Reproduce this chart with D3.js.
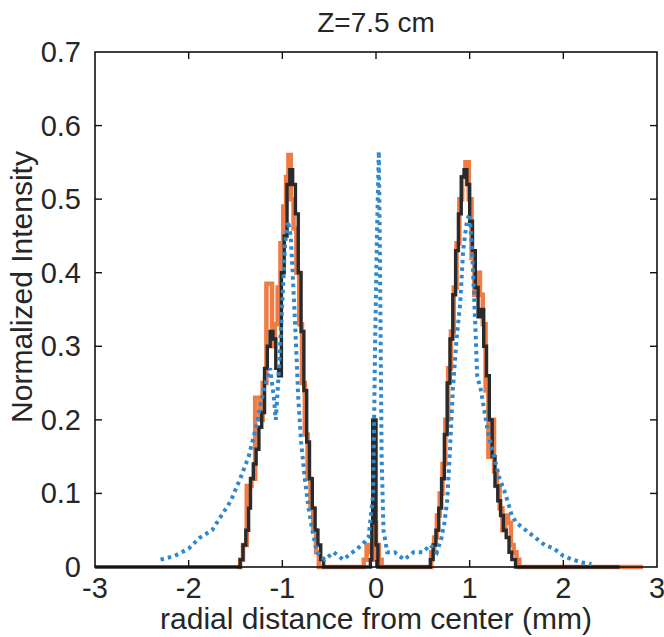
<!DOCTYPE html>
<html>
<head>
<meta charset="utf-8">
<script src="https://cdn.jsdelivr.net/npm/d3@7"></script>
<style>
  body { margin: 0; background: #fff; }
  svg { display: block; }
  text { font-family: "Liberation Sans", Arial, sans-serif; fill: #262626; }
</style>
</head>
<body>
<svg id="chart" width="664" height="637"></svg>
<script>
// ---- data ----
const titleText = "Z=7.5 cm";
const xLabel = "radial distance from center (mm)";
const yLabel = "Normalized Intensity";
const xTicks = [-3, -2, -1, 0, 1, 2, 3];
const yTicks = [0, 0.1, 0.2, 0.3, 0.4, 0.5, 0.6, 0.7];

// orange (stair)
const orangeX = [-1.48,-1.45,-1.42,-1.38,-1.33,-1.29,-1.24,-1.21,-1.17,-1.11,-1.08,-1.05,-1.02,-0.99,-0.96,-0.935,-0.91,-0.88,-0.85,-0.82,-0.79,-0.76,-0.73,-0.70,-0.67,-0.64,-0.61,
  -0.13,-0.10,-0.07,-0.04,-0.02,0.0,0.03,0.06,
  0.56,0.59,0.62,0.65,0.68,0.71,0.74,0.77,0.80,0.83,0.86,0.89,0.92,0.955,0.99,1.02,1.05,1.08,1.11,1.14,1.17,1.20,1.23,1.26,1.29,1.32,1.35,1.38,1.41,1.44,1.47,1.50,1.53,
  2.6,2.85];
const orangeY = [0.0,0.01,0.03,0.11,0.12,0.23,0.20,0.25,0.385,0.30,0.33,0.38,0.44,0.49,0.53,0.56,0.50,0.46,0.40,0.33,0.25,0.18,0.12,0.08,0.05,0.02,0.0,
  0.01,0.03,0.02,0.01,0.06,0.03,0.01,0.0,
  0.0,0.02,0.04,0.07,0.10,0.14,0.20,0.27,0.32,0.38,0.44,0.50,0.53,0.55,0.50,0.42,0.37,0.40,0.37,0.33,0.24,0.15,0.20,0.13,0.11,0.08,0.05,0.07,0.06,0.03,0.02,0.01,0.0,
  0.0,0.0];

// black (stair)
const blackX = [-3,-1.47,-1.45,-1.42,-1.39,-1.36,-1.34,-1.31,-1.28,-1.25,-1.22,-1.19,-1.16,-1.13,-1.10,-1.07,-1.04,-1.01,-0.98,-0.95,-0.92,-0.89,-0.86,-0.83,-0.80,-0.77,-0.74,-0.71,-0.68,-0.65,-0.62,-0.59,-0.56,
  -0.06,-0.045,-0.035,0.0,0.02,
  0.56,0.58,0.61,0.64,0.67,0.70,0.73,0.76,0.79,0.82,0.85,0.88,0.91,0.94,0.97,1.0,1.03,1.06,1.09,1.12,1.15,1.18,1.21,1.24,1.27,1.30,1.33,1.36,1.39,1.42,1.45,1.49,2.6];
const blackY = [0,0,0.01,0.03,0.05,0.08,0.12,0.14,0.16,0.19,0.21,0.27,0.30,0.32,0.31,0.27,0.26,0.40,0.45,0.52,0.54,0.52,0.48,0.40,0.32,0.24,0.17,0.12,0.08,0.05,0.03,0.01,0,
  0.01,0.06,0.20,0.03,0,
  0,0.01,0.03,0.05,0.08,0.12,0.18,0.25,0.31,0.37,0.43,0.48,0.53,0.54,0.52,0.47,0.43,0.38,0.34,0.35,0.30,0.26,0.20,0.15,0.11,0.09,0.07,0.05,0.04,0.02,0.01,0,0];

// blue (dotted)
const blueX = [-2.3,-2.15,-2.0,-1.88,-1.75,-1.65,-1.55,-1.45,-1.36,-1.28,-1.2,-1.13,-1.09,-1.07,-1.04,-1.0,-0.97,-0.94,-0.91,-0.89,-0.86,-0.83,-0.8,-0.76,-0.72,-0.68,-0.63,-0.55,-0.45,-0.35,-0.25,-0.15,-0.08,-0.03,-0.01,0.01,0.03,0.04,0.05,0.06,0.08,0.12,0.2,0.3,0.4,0.5,0.58,
  0.65,0.70,0.73,0.76,0.79,0.82,0.86,0.90,0.93,0.97,1.0,1.03,1.06,1.08,1.12,1.16,1.2,1.26,1.32,1.38,1.45,1.5,1.6,1.7,1.8,1.9,2.0,2.1,2.2,2.3];
const blueY = [0.01,0.015,0.025,0.04,0.05,0.07,0.09,0.12,0.15,0.19,0.24,0.27,0.23,0.2,0.26,0.36,0.44,0.47,0.45,0.40,0.32,0.23,0.17,0.12,0.08,0.05,0.02,0.01,0.02,0.01,0.02,0.03,0.04,0.1,0.3,0.45,0.565,0.45,0.3,0.15,0.05,0.02,0.02,0.01,0.02,0.02,0.03,
  0.02,0.04,0.06,0.09,0.16,0.24,0.31,0.36,0.43,0.47,0.48,0.42,0.33,0.26,0.24,0.21,0.18,0.15,0.12,0.10,0.07,0.06,0.05,0.04,0.03,0.025,0.015,0.01,0.006,0.004];

// ---- layout ----
const svg = d3.select("#chart");
const L = 95, R = 657, T = 52, B = 567;
const x = d3.scaleLinear().domain([-3, 3]).range([L, R]);
const y = d3.scaleLinear().domain([0, 0.7]).range([B, T]);

const zip = (xs, ys) => xs.map((v, i) => [v, ys[i]]);
const stair = d3.line().x(d => x(d[0])).y(d => y(d[1])).curve(d3.curveStepAfter);
const lin = d3.line().x(d => x(d[0])).y(d => y(d[1]));

svg.append("path").datum(zip(orangeX, orangeY))
  .attr("d", stair).attr("fill", "none")
  .attr("stroke", "#ef7b45").attr("stroke-width", 4.5);

svg.append("path").datum(zip(blackX, blackY))
  .attr("d", stair).attr("fill", "none")
  .attr("stroke", "#2a2a2a").attr("stroke-width", 3.4);

svg.append("path").datum(zip(blueX, blueY))
  .attr("d", lin).attr("fill", "none")
  .attr("stroke", "#2f88cc").attr("stroke-width", 4)
  .attr("stroke-dasharray", "3.5,4");

// ---- box & ticks ----
svg.append("rect").attr("x", L).attr("y", T).attr("width", R - L).attr("height", B - T)
  .attr("fill", "none").attr("stroke", "#111").attr("stroke-width", 1.6);

const tl = 7;
const g = svg.append("g").attr("stroke", "#111").attr("stroke-width", 1.4);
xTicks.slice(1, -1).forEach(t => {
  g.append("line").attr("x1", x(t)).attr("x2", x(t)).attr("y1", B).attr("y2", B - tl);
  g.append("line").attr("x1", x(t)).attr("x2", x(t)).attr("y1", T).attr("y2", T + tl);
});
yTicks.slice(1, -1).forEach(t => {
  g.append("line").attr("x1", L).attr("x2", L + tl).attr("y1", y(t)).attr("y2", y(t));
  g.append("line").attr("x1", R).attr("x2", R - tl).attr("y1", y(t)).attr("y2", y(t));
});

// tick labels
svg.selectAll("text.xt").data(xTicks).enter().append("text")
  .attr("class", "xt").attr("x", d => x(d)).attr("y", B + 31)
  .attr("text-anchor", "middle").attr("font-size", 29).text(d => d);
svg.selectAll("text.yt").data(yTicks).enter().append("text")
  .attr("class", "yt").attr("x", L - 14).attr("y", d => y(d) + 10)
  .attr("text-anchor", "end").attr("font-size", 29).text(d => d);

// title & labels
svg.append("text").attr("x", x(0)).attr("y", 32).attr("text-anchor", "middle")
  .attr("font-size", 28).text(titleText);
svg.append("text").attr("x", x(0)).attr("y", 629).attr("text-anchor", "middle")
  .attr("font-size", 30).text(xLabel);
svg.append("text").attr("transform", `translate(32,287) rotate(-90)`)
  .attr("text-anchor", "middle").attr("font-size", 30).text(yLabel);
</script>
</body>
</html>
